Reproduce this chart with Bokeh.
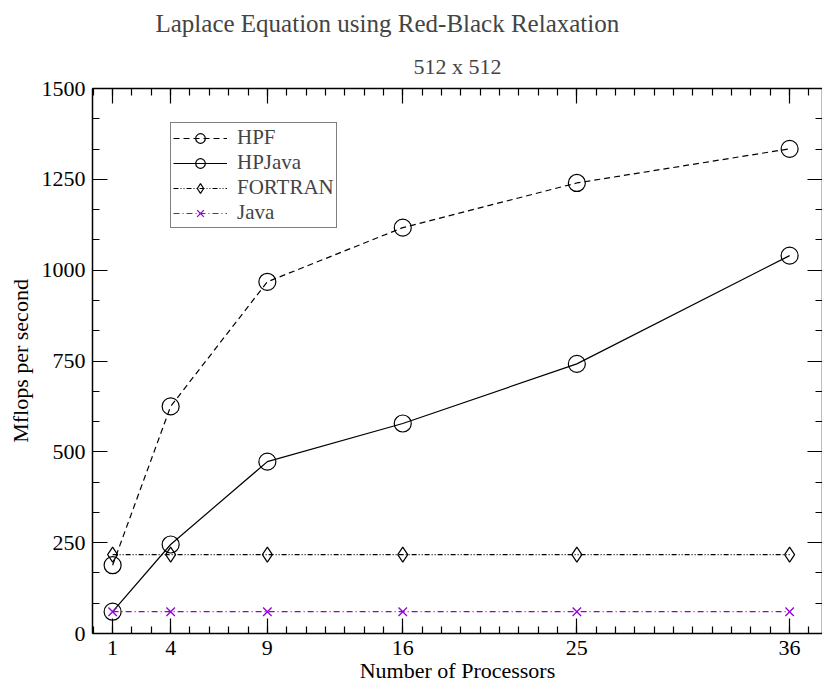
from bokeh.plotting import figure
from bokeh.models import Range1d, LinearAxis, FixedTicker, Legend, LegendItem, Title
from bokeh.embed import file_html
from bokeh.resources import INLINE

# ---- data ----
processors = [1, 4, 9, 16, 25, 36]
hpf = [188, 625, 968, 1117, 1240, 1334]
hpjava = [60, 245, 473, 578, 742, 1040]
fortran = [217, 217, 217, 217, 217, 217]
java = [60, 60, 60, 60, 60, 60]

x_major_ticks = [1, 4, 9, 16, 25, 36]
x_minor_ticks = list(range(0, 39))
y_major_ticks = [0, 250, 500, 750, 1000, 1250, 1500]
y_minor_ticks = [k * 250 / 3 for k in range(0, 19)]

FONT = "Liberation Serif"
PURPLE = "#9400d3"

p = figure(width=822, height=685,
           x_range=Range1d(-0.04, 37.7), y_range=Range1d(0, 1500),
           output_backend="svg", toolbar_location=None,
           min_border_left=92, min_border_right=0,
           min_border_top=88, min_border_bottom=52,
           x_axis_location=None, y_axis_location=None)
p.grid.visible = False
p.outline_line_color = None
p.background_fill_color = "white"
p.border_fill_color = "white"


def style_axis(ax, labels=True):
    ax.axis_line_color = "black"
    ax.axis_line_width = 1.5
    ax.major_tick_in = 15
    ax.major_tick_out = 0
    ax.minor_tick_in = 7
    ax.minor_tick_out = 0
    ax.major_tick_line_color = "black"
    ax.minor_tick_line_color = "black"
    ax.major_tick_line_width = 1.2
    ax.minor_tick_line_width = 1.2
    ax.major_label_text_font = FONT
    ax.major_label_text_font_size = "22px"
    ax.major_label_text_color = "black"
    ax.axis_label_text_font = FONT
    ax.axis_label_text_font_style = "normal"
    ax.axis_label_text_font_size = "22px"
    ax.axis_label_text_color = "black"
    if not labels:
        ax.major_label_text_color = None
        ax.major_label_standoff = 0


xt = FixedTicker(ticks=x_major_ticks, minor_ticks=x_minor_ticks)
yt = FixedTicker(ticks=y_major_ticks, minor_ticks=y_minor_ticks)

xb = LinearAxis(ticker=xt, axis_label="Number of Processors")
style_axis(xb)
xb.major_label_standoff = 7
xb.axis_label_standoff = 0
xa = LinearAxis(ticker=xt)
style_axis(xa, labels=False)

yl = LinearAxis(ticker=yt, axis_label="Mflops per second")
style_axis(yl)
yl.major_label_standoff = 7
yl.axis_label_standoff = 6
yr = LinearAxis(ticker=yt)
style_axis(yr, labels=False)

p.add_layout(xb, "below")
p.add_layout(yl, "left")
p.add_layout(xa, "above")
p.add_layout(yr, "right")

p.add_layout(Title(text="512 x 512", text_font=FONT, text_font_size="22px",
                   text_font_style="normal", align="center", standoff=20), "above")
p.add_layout(Title(text="Laplace Equation using Red-Black Relaxation", text_font=FONT,
                   text_font_size="25px", text_font_style="normal", align="left",
                   offset=63, standoff=9), "above")

# ---- series ----
r_hpf_l = p.line(processors, hpf, line_color="black", line_width=1.2, line_dash="6 4")
r_hpf_s = p.scatter(processors, hpf, marker="circle", size=17, line_color="black",
                    fill_color=None, line_width=1.2)

r_hpj_l = p.line(processors, hpjava, line_color="black", line_width=1.2)
r_hpj_s = p.scatter(processors, hpjava, marker="circle", size=17, line_color="black",
                    fill_color=None, line_width=1.2)

r_for_l = p.line(processors, fortran, line_color="black", line_width=1.2,
                 line_dash="5 2 1 2 1 2")
r_for_s = p.scatter(processors, fortran, marker="diamond", size=15,
                    line_color="black", fill_color=None, line_width=1.2)

r_jav_l = p.line(processors, java, line_color=PURPLE, line_width=1.2, line_dash="6 3 1 3")
r_jav_s = p.scatter(processors, java, marker="x", size=12, line_color=PURPLE,
                    line_width=1.3)

legend = Legend(items=[
    LegendItem(label="HPF", renderers=[r_hpf_l, r_hpf_s]),
    LegendItem(label="HPJava", renderers=[r_hpj_l, r_hpj_s]),
    LegendItem(label="FORTRAN", renderers=[r_for_l, r_for_s]),
    LegendItem(label="Java", renderers=[r_jav_l, r_jav_s]),
], location=(78, 405))
legend.label_text_font = FONT
legend.label_text_font_size = "21px"
legend.label_height = 24
legend.glyph_height = 24
legend.glyph_width = 54
legend.spacing = 0
legend.padding = 2
legend.margin = 0
legend.label_standoff = 10
legend.border_line_color = "black"
legend.border_line_width = 1.2
legend.background_fill_color = "white"
legend.background_fill_alpha = 1.0
p.add_layout(legend, "center")

open("out.html", "w").write(file_html(p, INLINE))
